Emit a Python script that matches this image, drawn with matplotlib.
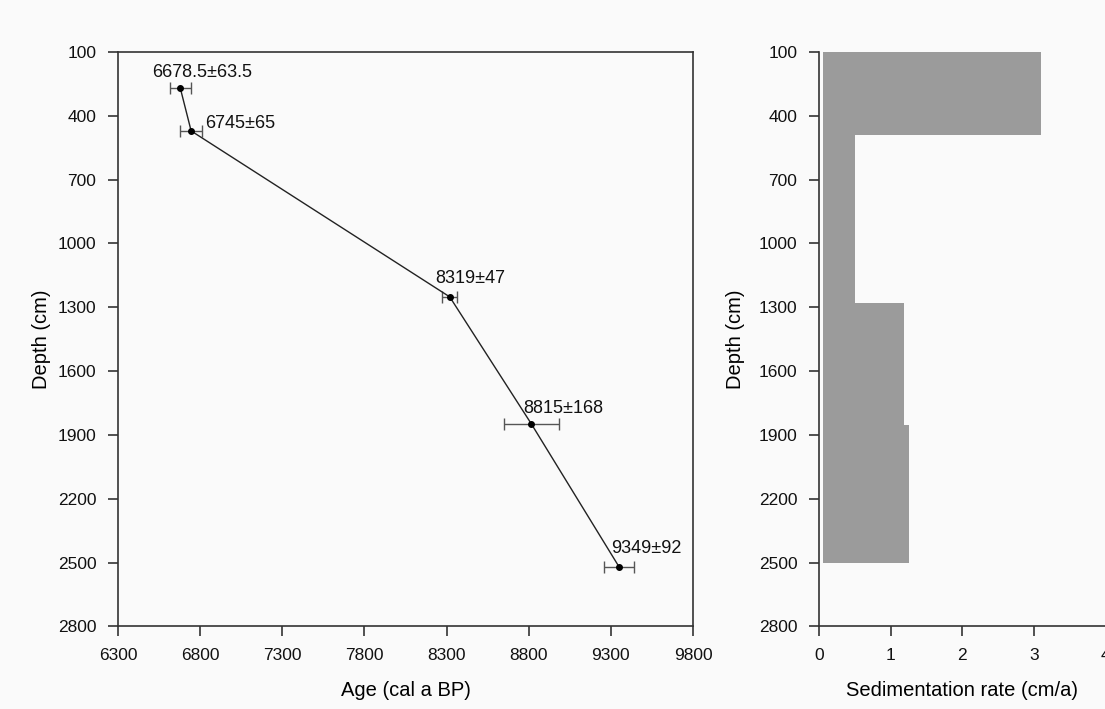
import matplotlib.pyplot as plt

plt.rcParams["font.family"] = ["Liberation Sans", "DejaVu Sans"]

# dated samples
depth = [268, 471, 1251, 1847, 2519]
age = [6678.5, 6745, 8319, 8815, 9349]
age_err = [63.5, 65, 47, 168, 92]
labels = ["6678.5±63.5", "6745±65", "8319±47", "8815±168", "9349±92"]

# sedimentation rate segments (top depth of each segment + bottom)
rate_depth = [100, 490, 1278, 1853, 2500]
rate = [3.1, 0.5, 1.18, 1.25, 1.25]
rate_base = 0.06

depth_ticks = [100, 400, 700, 1000, 1300, 1600, 1900, 2200, 2500, 2800]
age_ticks = [6300, 6800, 7300, 7800, 8300, 8800, 9300, 9800]
rate_ticks = [0, 1, 2, 3, 4]

bg = "#fafafa"
spine_col = "#333333"

fig = plt.figure(figsize=(11.05, 7.09), dpi=100, facecolor=bg)
ax1 = fig.add_axes([0.1068, 0.1164, 0.5204, 0.8103], facecolor=bg)
ax2 = fig.add_axes([0.7412, 0.1164, 0.2593, 0.8103], facecolor=bg)

# age-depth model
ax1.errorbar(age, depth, xerr=age_err, fmt="none", ecolor="#555555",
             elinewidth=1, capsize=4.5)
ax1.plot(age, depth, color="#222222", lw=1)
ax1.plot(age, depth, "o", color="black", ms=4)

offsets = [(22, 11, "center"), (14, 3, "left"), (-14, 14, "left"),
           (-8, 11, "left"), (-8, 14, "left")]
for a, d, lab, (dx, dy, ha) in zip(age, depth, labels, offsets):
    ax1.annotate(lab, (a, d), xytext=(dx, dy), textcoords="offset pixels",
                 ha=ha, va="baseline", fontsize=13, color="#111111")

ax1.set_xlim(6300, 9800)
ax1.set_ylim(2800, 100)
ax1.set_xticks(age_ticks)
ax1.set_yticks(depth_ticks)
ax1.set_xlabel("Age (cal a BP)", fontsize=14.5, labelpad=13)
ax1.set_ylabel("Depth (cm)", fontsize=14.5, labelpad=5)

# sedimentation rate
ax2.fill_betweenx(rate_depth, rate_base, rate, step="post",
                  color="#9b9b9b", lw=0)
ax2.set_xlim(0, 4)
ax2.set_ylim(2800, 100)
ax2.set_xticks(rate_ticks)
ax2.set_yticks(depth_ticks)
ax2.set_xlabel("Sedimentation rate (cm/a)", fontsize=14.5, labelpad=13)
ax2.set_ylabel("Depth (cm)", fontsize=14.5, labelpad=10)
ax2.spines["top"].set_visible(False)
ax2.spines["right"].set_visible(False)

for ax in (ax1, ax2):
    for s in ax.spines.values():
        s.set_color(spine_col)
        s.set_linewidth(1.2)
    ax.tick_params(direction="out", length=7.5, width=1.2, color=spine_col,
                   labelsize=12.5, labelcolor="#111111", pad=8)

fig.savefig("out.png", dpi=100, facecolor=bg)
